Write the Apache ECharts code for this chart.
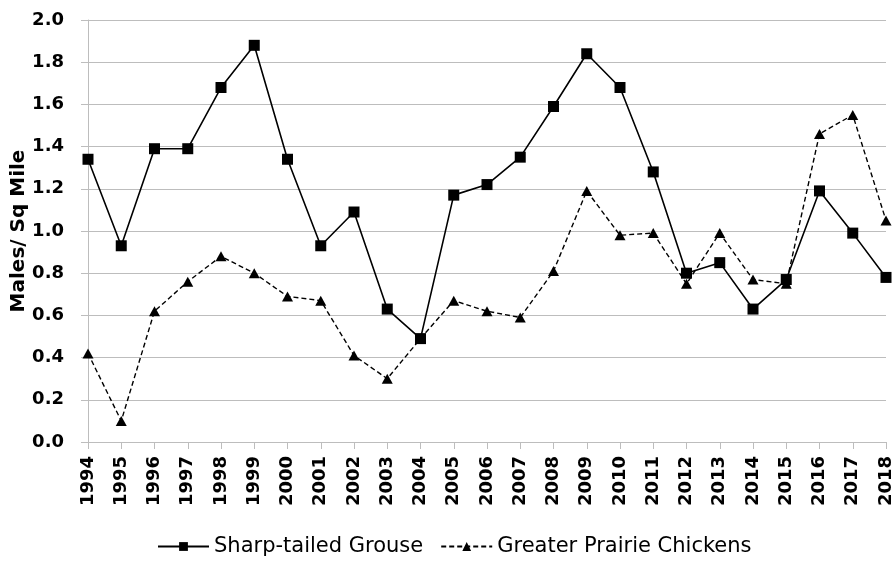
<!DOCTYPE html>
<html>
<head>
<meta charset="utf-8">
<script src="https://cdn.jsdelivr.net/npm/echarts@6/dist/echarts.min.js"></script>
<style>
  html, body { margin: 0; padding: 0; background: #fff; }
  #chart { width: 896px; height: 563px; }
</style>
</head>
<body>
<div id="chart"></div>
<script>
// years on x axis
const years = ['1994', '1995', '1996', '1997', '1998', '1999', '2000', '2001', '2002', '2003', '2004', '2005',
  '2006', '2007', '2008', '2009', '2010', '2011', '2012', '2013', '2014', '2015', '2016', '2017', '2018']

// males per square mile
const grouse = [1.34, 0.93, 1.39, 1.39, 1.68, 1.88, 1.34, 0.93, 1.09, 0.63, 0.49, 1.17,
  1.22, 1.35, 1.59, 1.84, 1.68, 1.28, 0.80, 0.85, 0.63, 0.77, 1.19, 0.99, 0.78]
const prairieChickens = [0.42, 0.10, 0.62, 0.76, 0.88, 0.80, 0.69, 0.67, 0.41, 0.30, 0.49, 0.67,
  0.62, 0.59, 0.81, 1.19, 0.98, 0.99, 0.75, 0.99, 0.77, 0.75, 1.46, 1.55, 1.05]

const chart = echarts.init(document.getElementById('chart'), null, { renderer: 'canvas' })

// DejaVu is wider than Arial, closer to the stretched text of the original
const font = 'DejaVu Sans, sans-serif'
const gray = '#bdbdbd'

chart.setOption({
  animation: false,
  grid: {
    left: 88,
    right: 10,
    top: 20,
    bottom: 121,
    outerBoundsMode: 'none'
  },
  legend: {
    top: 536,
    left: 157,
    padding: 0,
    itemWidth: 51,
    itemHeight: 11,
    itemGap: 17,
    textStyle: { fontFamily: font, fontSize: 21, color: '#000' },
    data: ['Sharp-tailed Grouse', 'Greater Prairie Chickens']
  },
  xAxis: {
    type: 'category',
    data: years,
    boundaryGap: false,
    axisLine: { lineStyle: { color: gray, width: 1 } },
    axisTick: { show: true, length: 7, lineStyle: { color: gray } },
    axisLabel: {
      rotate: 90,
      interval: 0,
      margin: 14,
      fontFamily: font,
      fontSize: 18,
      fontWeight: 'bold',
      color: '#000'
    }
  },
  yAxis: {
    type: 'value',
    min: 0,
    max: 2,
    interval: 0.2,
    name: 'Males/ Sq Mile',
    nameLocation: 'middle',
    nameGap: 59,
    nameMoveOverlap: false,
    nameTextStyle: { fontFamily: font, fontSize: 20, fontWeight: 'bold', color: '#000' },
    axisLine: { show: true, lineStyle: { color: gray, width: 1 } },
    axisTick: { show: true, length: 7, lineStyle: { color: gray } },
    splitLine: { lineStyle: { color: gray, width: 1 } },
    axisLabel: {
      margin: 24,
      fontFamily: font,
      fontSize: 18,
      fontWeight: 'bold',
      color: '#000',
      formatter: v => v.toFixed(1)
    }
  },
  series: [
    {
      name: 'Sharp-tailed Grouse',
      type: 'line',
      data: grouse,
      symbol: 'rect',
      symbolSize: 11,
      z: 3,
      itemStyle: { color: '#000' },
      lineStyle: { color: '#000', width: 1.6 }
    },
    {
      name: 'Greater Prairie Chickens',
      type: 'line',
      data: prairieChickens,
      symbol: 'triangle',
      symbolSize: [11, 10],
      z: 2,
      itemStyle: { color: '#000' },
      lineStyle: { color: '#000', width: 1.4, type: [5, 3] }
    }
  ]
})
</script>
</body>
</html>
